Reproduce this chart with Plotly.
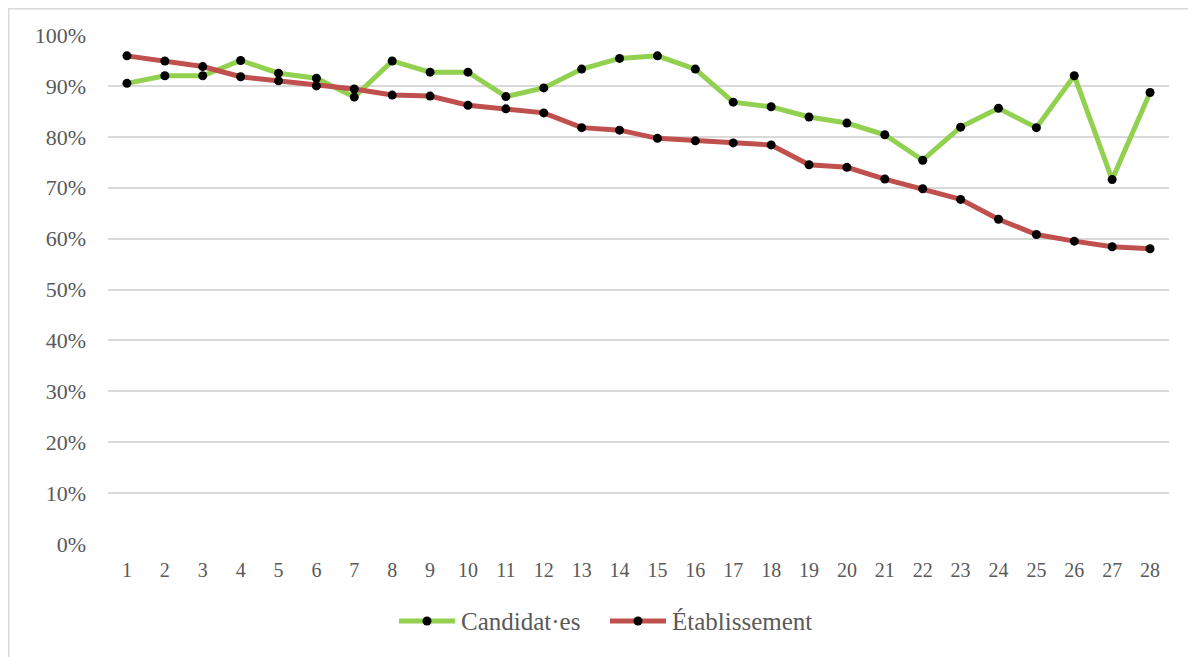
import plotly.graph_objects as go

categories = [str(i) for i in range(1, 29)]
candidats = [90.5, 92.0, 92.0, 95.0, 92.5, 91.5, 87.8, 94.9, 92.7, 92.7, 87.9, 89.6, 93.3, 95.4,
             95.9, 93.3, 86.8, 85.9, 83.9, 82.7, 80.4, 75.4, 81.9, 85.6, 81.8, 92.0, 71.6, 88.7]
etablissement = [95.9, 94.9, 93.8, 91.8, 91.0, 90.0, 89.4, 88.2, 88.0, 86.2, 85.5, 84.7, 81.8, 81.3,
                 79.7, 79.2, 78.8, 78.4, 74.5, 74.0, 71.7, 69.8, 67.7, 63.8, 60.8, 59.5, 58.4, 58.0]
series_names = ["Candidat·es", "Établissement"]
series_colors = ["#92d050", "#c0504d"]
tick_vals = [0, 10, 20, 30, 40, 50, 60, 70, 80, 90, 100]
tick_text = [f"{v}%" for v in tick_vals]

FONT = "Liberation Serif"
GREY = "#595959"
# page body has an 8px margin; figure is sized so that it fits the window
OFF = 8
W, H = 1196 - OFF, 657 - OFF
PL, PR, PT, PB = 108, 1169, 35, 544   # plot area in window pixels
L, R, T, B = PL - OFF, W + OFF - PR, PT - OFF, H + OFF - PB
pw, ph = PR - PL, PB - PT


def px(x):
    return (x - PL) / pw


def py(y):
    return (PB - y) / ph


fig = go.Figure()
for name, vals, color in zip(series_names, [candidats, etablissement], series_colors):
    fig.add_trace(go.Scatter(
        x=categories, y=vals, name=name, mode="lines+markers",
        line=dict(color=color, width=5),
        marker=dict(color="black", size=9),
        showlegend=False,
    ))

# chart border (light grey frame)
fig.add_shape(type="rect", xref="paper", yref="paper",
              x0=px(OFF + 0.75), x1=px(1196 + 20),
              y0=py(700), y1=py(OFF + 0.75),
              line=dict(color="#d9d9d9", width=1.5), layer="below")

# legend drawn manually (Excel style: long line with marker in the middle)
legend_items = [(399, 455, 459), (610, 666, 670)]
ly = 621
for (x0, x1, xt), name, color in zip(legend_items, series_names, series_colors):
    fig.add_shape(type="line", xref="paper", yref="paper",
                  x0=px(x0), x1=px(x1), y0=py(ly), y1=py(ly),
                  line=dict(color=color, width=5))
    cx = (x0 + x1) / 2
    fig.add_shape(type="circle", xref="paper", yref="paper",
                  x0=px(cx - 4.5), x1=px(cx + 4.5), y0=py(ly + 4.5), y1=py(ly - 4.5),
                  fillcolor="black", line=dict(width=0))
    fig.add_annotation(xref="paper", yref="paper", x=px(xt), y=py(ly),
                       xanchor="left", yanchor="middle", showarrow=False,
                       text=name, font=dict(family=FONT, size=25, color=GREY))

fig.update_layout(
    width=W, height=H,
    margin=dict(l=L, r=R, t=T, b=B, autoexpand=False),
    paper_bgcolor="white", plot_bgcolor="white",
    font=dict(family=FONT, size=20, color=GREY),
    showlegend=False,
    xaxis=dict(type="category", range=[-0.5, 27.5], showgrid=False, showline=False,
               zeroline=False, ticks="", tickfont=dict(size=20), ticklabelstandoff=12),
    yaxis=dict(range=[0, 100], tickvals=tick_vals, ticktext=tick_text,
               showgrid=True, gridcolor="#d9d9d9", gridwidth=1.5, zeroline=False,
               showline=False, ticks="", tickfont=dict(size=22), ticklabelstandoff=21),
)

fig.write_html("out.html")
